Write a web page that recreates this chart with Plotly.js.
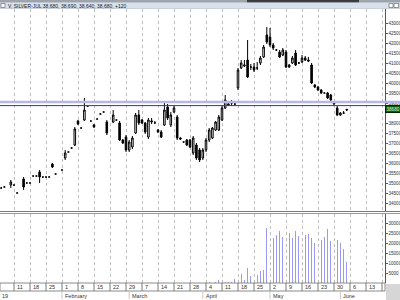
<!DOCTYPE html>
<html><head><meta charset="utf-8">
<script src="https://cdn.plot.ly/plotly-3.0.1.min.js"></script>
<style>html,body{margin:0;padding:0;background:#fff;overflow:hidden}#chart{width:400px;height:300px}</style>
</head><body><div id="chart"></div>
<script>
// ---------- DATA ----------
const dates = [
 '2016-01-05','2016-01-06','2016-01-08','2016-01-11','2016-01-12','2016-01-14','2016-01-15','2016-01-18','2016-01-19','2016-01-20','2016-01-21','2016-01-22','2016-01-25','2016-01-26','2016-01-27','2016-01-28',
 '2016-02-01','2016-02-02','2016-02-03','2016-02-04','2016-02-05','2016-02-08','2016-02-09','2016-02-10','2016-02-11','2016-02-12','2016-02-15','2016-02-16','2016-02-17','2016-02-18','2016-02-19','2016-02-23','2016-02-24','2016-02-25','2016-02-26','2016-02-29',
 '2016-03-01','2016-03-02','2016-03-03','2016-03-04','2016-03-07','2016-03-08','2016-03-09','2016-03-10','2016-03-11','2016-03-14','2016-03-15','2016-03-16','2016-03-17','2016-03-18','2016-03-21','2016-03-22','2016-03-23','2016-03-24','2016-03-25','2016-03-28','2016-03-29','2016-03-30','2016-03-31',
 '2016-04-01','2016-04-04','2016-04-05','2016-04-06','2016-04-07','2016-04-08','2016-04-11','2016-04-12','2016-04-13','2016-04-14','2016-04-15','2016-04-18','2016-04-19','2016-04-20','2016-04-21','2016-04-22','2016-04-25','2016-04-26','2016-04-27','2016-04-28','2016-04-29',
 '2016-05-02','2016-05-03','2016-05-04','2016-05-05','2016-05-06','2016-05-09','2016-05-10','2016-05-11','2016-05-12','2016-05-13','2016-05-16','2016-05-17','2016-05-18','2016-05-19','2016-05-20','2016-05-23','2016-05-24','2016-05-25','2016-05-26','2016-05-27','2016-05-30','2016-05-31',
 '2016-06-01','2016-06-02','2016-06-03'
];
const opens = [
 34750,34800,34900,34900,34500,35200,35000,35000,35350,35350,35550,35300,35300,35300,35950,35450,
 35650,36250,36550,36750,36900,38100,37750,38150,38850,38100,37900,38200,38450,38550,38050,38050,38150,38000,37150,37300,
 36650,36800,37500,38400,38150,38000,37300,38050,38000,37650,37550,37900,38800,37900,38550,38300,37250,37050,37150,37150,36500,36900,36650,
 36250,36650,37150,37250,37650,37650,38150,38750,38900,39000,38950,39750,40750,40850,41150,40800,40800,40750,41000,41300,42400,
 42300,41900,41650,41550,41400,41550,40800,41000,41500,41000,41050,41250,41150,40900,39900,39800,39650,39500,39500,39400,39050,38750,
 38400,38500,38650
];
const highs = [
 34750,34800,35150,34900,34500,35300,35000,35000,35350,35350,35650,35300,35300,35300,36000,35450,
 35650,36650,36550,36750,37800,38150,37750,39250,38850,38100,37950,38200,38450,38550,38150,38650,38150,38100,37200,37400,
 37150,37350,38500,38650,38200,38050,38250,38250,38100,37700,37650,39000,38950,38550,38850,38400,37300,37050,37200,37200,37350,37000,36750,
 36750,37250,37750,37800,38100,38400,38850,39400,39000,39150,39050,40750,41150,41150,42150,40950,41000,41050,41350,41900,42800,
 42750,42000,41700,41650,41750,41650,40950,41350,41650,41050,41400,41350,41300,41000,39950,39850,39700,39500,39550,39450,39100,38850,
 38550,38600,38700
];
const lows = [
 34750,34800,34750,34900,34500,34650,35000,35000,35350,35350,35000,35300,35300,35300,35750,35450,
 35650,36150,36550,36750,36850,37900,37750,38100,38850,38100,37750,38200,38450,38550,37400,38000,38150,37100,36950,36550,
 36550,36700,37450,37900,37950,37450,37200,37950,38000,37500,37250,37850,38150,37800,38500,37150,37150,37050,36850,36750,36400,36150,36050,
 36150,36550,37050,37200,37600,37600,38100,38700,38850,38850,38900,39650,40700,40800,40250,40650,40550,40650,40900,41250,41950,
 41800,41650,41600,41250,41350,40750,40750,40950,40850,40950,41000,41100,41050,39950,39750,39600,39450,39500,39200,39100,38900,38350,
 38350,38450,38600
];
const closes = [
 34750,34800,35050,34900,34500,34800,35000,35000,35350,35350,35300,35300,35300,35300,35800,35450,
 35650,36500,36550,36750,37700,37950,37750,38650,38850,38100,37800,38200,38450,38550,37500,38400,38150,37150,37000,36650,
 37050,37250,38400,38000,38000,37550,38150,38100,38000,37550,37300,38650,38250,38400,38750,37250,37200,37050,36900,36800,37250,36250,36150,
 36650,37150,37650,37750,38050,38300,38750,39150,38950,39000,38950,40650,41000,40900,40300,40800,40650,40750,41250,41800,42050,
 41900,41750,41650,41300,41650,40800,40900,41250,40900,41000,41250,41150,41100,40000,39800,39650,39500,39500,39250,39150,38950,38400,
 38500,38500,38680
];
const volStart = '2016-04-04';
const volumes = [
 200,300,200,400,1500, 1500,500,300,300,2000, 3000,4500,1500,7500,3500, 3000,4000,6000,6500,27500,
 25500,22500,24000,26000,23000, 20000,25000,22500,26000,23500, 21000,24000,24500,22500,20000,
 22500,21500,23000,27000,21000, 21500,21500,20000,17000,10500
];
const weekTicks = ['2016-01-04','2016-01-11','2016-01-18','2016-01-25','2016-02-01','2016-02-08','2016-02-15','2016-02-22','2016-02-29','2016-03-07','2016-03-14','2016-03-21','2016-03-28','2016-04-04','2016-04-11','2016-04-18','2016-04-25','2016-05-02','2016-05-09','2016-05-16','2016-05-23','2016-05-30','2016-06-06','2016-06-13','2016-06-20'];
const weekLabels = ['4','11','18','25','1','8','15','22','29','7','14','21','28','4','11','18','25','2','9','16','23','30','6','13',''];
const monthStarts = ['2016-02-01','2016-03-01','2016-04-01','2016-05-02','2016-06-01'];
const monthNames = ['February','March','April','May','June'];
const priceTicks = [34000,34500,35000,35500,36000,36500,37000,37500,38000,39000,39500,40000,40500,41000,41500,42000,42500,43000];
const volTicks = [5000,10000,15000,20000,25000,30000];
const resistance = 39050, support = 38870, lastPrice = 38680;
const titleText = 'V, SILVER-JUL 38,680, 38,690, 38,640, 38,680, +120';

// ---------- LAYOUT HELPERS (pixel -> paper) ----------
const W = 400, H = 300;
const px = v => v / W;
const py = v => 1 - v / H;
const plotRight = px(385);
const FONT = '"Liberation Sans Narrow", "Liberation Sans", Arial, sans-serif';

const volDates = dates.slice(dates.indexOf(volStart));

const traces = [
 {
  type: 'candlestick', x: dates, open: opens, high: highs, low: lows, close: closes,
  xaxis: 'x2', yaxis: 'y',
  increasing: {line: {color: '#000', width: 1}, fillcolor: '#ffffff'},
  decreasing: {line: {color: '#000', width: 1}, fillcolor: '#000000'},
  whiskerwidth: 0, hoverinfo: 'skip', showlegend: false
 },
 {
  type: 'bar', x: volDates, y: volumes, xaxis: 'x', yaxis: 'y2',
  marker: {color: '#9a9af0', line: {width: 0}}, width: 0.3 * 86400000,
  hoverinfo: 'skip', showlegend: false
 }
];

const shapes = [];
const annotations = [];

// title strip
shapes.push({type:'rect', xref:'paper', yref:'paper', x0:0, x1:1, y0:py(2.5), y1:py(0), fillcolor:'#9ea4ac', line:{width:0}, layer:'above'});
shapes.push({type:'rect', xref:'paper', yref:'paper', x0:px(247), x1:px(359), y0:py(3), y1:py(0), fillcolor:'#3c3c3c', line:{width:0}, layer:'above'});
shapes.push({type:'rect', xref:'paper', yref:'paper', x0:0, x1:1, y0:py(8.5), y1:py(2.5), fillcolor:'#d8e0eb', line:{color:'#a9b3c2', width:0.5}, layer:'above'});
shapes.push({type:'rect', xref:'paper', yref:'paper', x0:px(1), x1:px(5), y0:py(7.5), y1:py(3.5), fillcolor:'#ffffff', line:{color:'#555', width:0.6}, layer:'above'});
shapes.push({type:'rect', xref:'paper', yref:'paper', x0:px(389), x1:px(393), y0:py(7.5), y1:py(3.5), fillcolor:'#ffffff', line:{color:'#555', width:0.6}, layer:'above'});
shapes.push({type:'rect', xref:'paper', yref:'paper', x0:px(394), x1:px(398.5), y0:py(7.5), y1:py(3.5), fillcolor:'#ffffff', line:{color:'#555', width:0.6}, layer:'above'});
annotations.push({text:titleText, xref:'paper', yref:'paper', x:px(6), y:py(5.6), xanchor:'left', yanchor:'middle', showarrow:false, font:{family:FONT, size:5, color:'#1a1a1a'}});

// panel separator (double line)
shapes.push({type:'line', xref:'paper', yref:'paper', x0:0, x1:1, y0:py(211.5), y1:py(211.5), line:{color:'#7a7a7a', width:1}});
shapes.push({type:'line', xref:'paper', yref:'paper', x0:0, x1:1, y0:py(213.5), y1:py(213.5), line:{color:'#9a9a9a', width:1}});

// horizontal price lines
shapes.push({type:'line', xref:'paper', yref:'y', x0:0, x1:1, y0:resistance, y1:resistance, line:{color:'#b6b6ee', width:2.5}});
shapes.push({type:'line', xref:'paper', yref:'y', x0:0, x1:plotRight, y0:support, y1:support, line:{color:'#3232b4', width:1}});
annotations.push({text:String(lastPrice), xref:'paper', yref:'y', x:plotRight, y:lastPrice, xanchor:'left', yanchor:'middle', showarrow:false,
  bgcolor:'#0d5c0d', bordercolor:'#002800', borderwidth:1, borderpad:0.5, font:{family:FONT, size:4.6, color:'#d8ffd8'}});

// date tick row
shapes.push({type:'rect', xref:'paper', yref:'paper', x0:0, x1:plotRight, y0:py(291), y1:py(283), fillcolor:'rgba(0,0,0,0)', line:{color:'#8a8a8a', width:1}});
shapes.push({type:'rect', xref:'paper', yref:'paper', x0:px(386), x1:1, y0:0, y1:py(284), fillcolor:'#d6d6d6', line:{width:0}});
weekTicks.forEach((d, i) => {
  shapes.push({type:'line', xref:'x', yref:'paper', x0:d, x1:d, y0:py(291), y1:py(283), line:{color:'#7a7a7a', width:1}});
  if (weekLabels[i]) annotations.push({text:weekLabels[i], xref:'x', yref:'paper', x:d, y:py(287.2), xanchor:'left', yanchor:'middle', xshift:1, showarrow:false, font:{family:FONT, size:5.5, color:'#333'}});
});
monthStarts.forEach((d, i) => {
  shapes.push({type:'line', xref:'x', yref:'paper', x0:d, x1:d, y0:py(299), y1:py(291), line:{color:'#c8c8c8', width:1}});
  annotations.push({text:monthNames[i], xref:'x', yref:'paper', x:d, y:py(296), xanchor:'left', yanchor:'middle', xshift:1, showarrow:false, font:{family:FONT, size:5.5, color:'#333'}});
});
annotations.push({text:'19', xref:'paper', yref:'paper', x:0, y:py(296), xanchor:'left', yanchor:'middle', showarrow:false, font:{family:FONT, size:5.5, color:'#333'}});

const xCommon = {
  type:'date', range:['2016-01-04 15:00','2016-06-20 22:30'],
  rangebreaks:[{bounds:['sat','mon']}],
  tickvals: weekTicks, showticklabels:false, ticks:'',
  showgrid:true, gridcolor:'#bdbdbd', griddash:'dot', gridwidth:1,
  showline:false, zeroline:false, fixedrange:true
};
const axisFont = {family:FONT, size:4.6, color:'#333'};

const layout = {
  width: W, height: H,
  margin: {l:0, r:0, t:0, b:0, pad:0},
  paper_bgcolor:'#ffffff', plot_bgcolor:'#ffffff',
  showlegend:false, bargap:0,
  xaxis: Object.assign({}, xCommon, {domain:[0, plotRight], anchor:'y2'}),
  xaxis2: Object.assign({}, xCommon, {domain:[0, plotRight], anchor:'y', matches:'x', rangeslider:{visible:false}}),
  yaxis: {domain:[py(212), py(9)], range:[33550, 43700], side:'right', anchor:'x2',
    tickvals: priceTicks, ticktext: priceTicks.map(String), ticks:'outside', ticklen:1.5, tickcolor:'#555',
    ticklabelstandoff:-1.5,
    showline:true, linecolor:'#555', linewidth:1, showgrid:false, zeroline:false, tickfont:axisFont, fixedrange:true},
  yaxis2: {domain:[py(283), py(214)], range:[0, 34500], side:'right', anchor:'x',
    tickvals: volTicks, ticktext: volTicks.map(String), ticks:'outside', ticklen:1.5, tickcolor:'#555',
    ticklabelstandoff:-1.5,
    showline:true, linecolor:'#555', linewidth:1, showgrid:false, zeroline:false, tickfont:axisFont, fixedrange:true},
  shapes: shapes,
  annotations: annotations
};

Plotly.newPlot('chart', traces, layout, {staticPlot:true, displayModeBar:false});
</script>
</body></html>
